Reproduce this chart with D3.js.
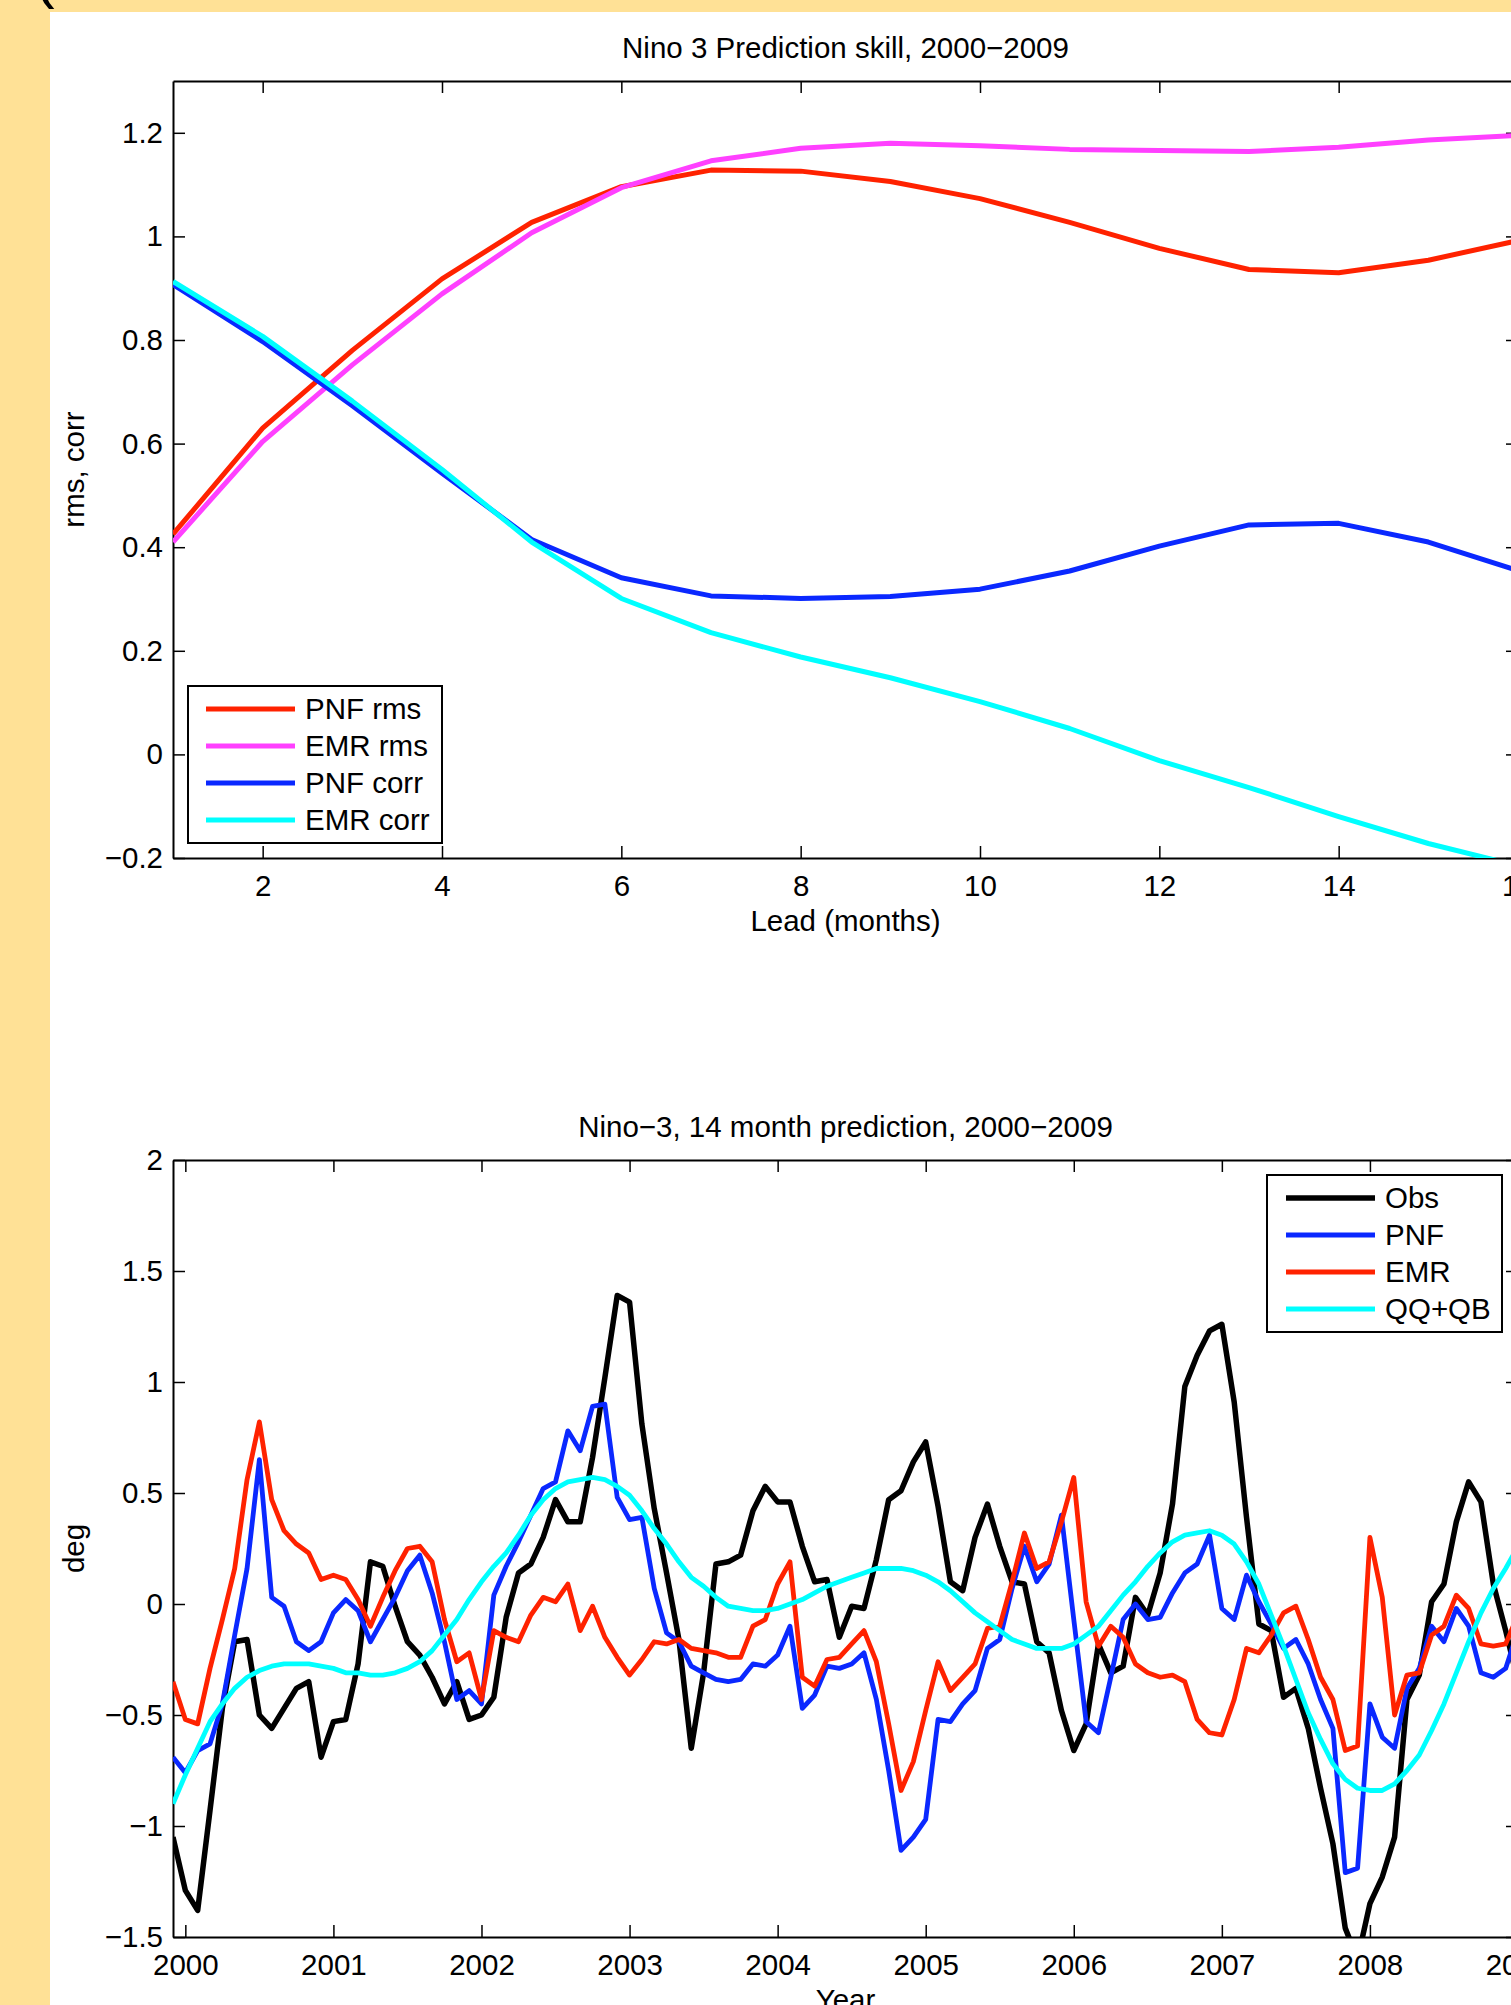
<!DOCTYPE html>
<html>
<head>
<meta charset="utf-8">
<script src="https://cdn.jsdelivr.net/npm/d3@7"></script>
<style>
body { margin: 0; background: #FFE196; }
svg { display: block; }
text { font-family: "Liberation Sans", Arial, Helvetica, sans-serif; fill: #000; }
</style>
</head>
<body>
<script>
// ---- top panel: skill vs lead ----
const leadMonths = [1, 2, 3, 4, 5, 6, 7, 8, 9, 10, 11, 12, 13, 14, 15, 16];
const pnfRms  = [0.425, 0.630, 0.780, 0.918, 1.027, 1.096, 1.128, 1.126, 1.106, 1.073, 1.027, 0.977, 0.936, 0.930, 0.954, 0.992];
const emrRms  = [0.410, 0.604, 0.752, 0.889, 1.007, 1.094, 1.146, 1.170, 1.180, 1.175, 1.168, 1.166, 1.164, 1.172, 1.186, 1.195];
const pnfCorr = [0.907, 0.797, 0.673, 0.543, 0.415, 0.341, 0.306, 0.301, 0.305, 0.319, 0.354, 0.402, 0.443, 0.446, 0.410, 0.355];
const emrCorr = [0.913, 0.807, 0.682, 0.550, 0.410, 0.301, 0.235, 0.188, 0.148, 0.102, 0.050, -0.012, -0.064, -0.120, -0.172, -0.215];
const topXTicks = [2, 4, 6, 8, 10, 12, 14, 16];
const topYTicks = [-0.2, 0, 0.2, 0.4, 0.6, 0.8, 1, 1.2];
const topYLabels = ["\u22120.2", "0", "0.2", "0.4", "0.6", "0.8", "1", "1.2"];

// ---- bottom panel: monthly series, Dec 1999 onwards ----
const firstMonth = -1; // months after Jan 2000
const obs = [-1.05, -1.29, -1.38, -0.93, -0.47, -0.17, -0.16, -0.50, -0.56, -0.47, -0.38, -0.35, -0.69,
  -0.53, -0.52, -0.27, 0.19, 0.17, -0.01, -0.17, -0.23, -0.33, -0.45, -0.35, -0.52,
  -0.50, -0.42, -0.06, 0.14, 0.18, 0.30, 0.47, 0.37, 0.37, 0.66, 1.02, 1.39,
  1.36, 0.81, 0.43, 0.14, -0.16, -0.65, -0.31, 0.18, 0.19, 0.22, 0.42, 0.53,
  0.46, 0.46, 0.26, 0.10, 0.11, -0.15, -0.01, -0.02, 0.20, 0.47, 0.51, 0.64,
  0.73, 0.44, 0.10, 0.06, 0.30, 0.45, 0.26, 0.10, 0.09, -0.17, -0.22, -0.48,
  -0.66, -0.54, -0.18, -0.31, -0.28, 0.03, -0.05, 0.14, 0.45, 0.98, 1.12, 1.23,
  1.26, 0.91, 0.39, -0.09, -0.12, -0.42, -0.38, -0.56, -0.83, -1.08, -1.46, -1.60,
  -1.35, -1.23, -1.05, -0.43, -0.32, 0.01, 0.09, 0.37, 0.55, 0.46, 0.09, -0.12,
  -0.35];
const pnf = [-0.69, -0.76, -0.66, -0.63, -0.45, -0.14, 0.16, 0.65, 0.03, -0.01, -0.17, -0.21, -0.17,
  -0.04, 0.02, -0.03, -0.17, -0.07, 0.03, 0.15, 0.22, 0.05, -0.17, -0.43, -0.39,
  -0.45, 0.04, 0.17, 0.28, 0.40, 0.52, 0.55, 0.78, 0.69, 0.89, 0.90, 0.48,
  0.38, 0.39, 0.07, -0.13, -0.17, -0.28, -0.31, -0.34, -0.35, -0.34, -0.27, -0.28,
  -0.23, -0.10, -0.47, -0.41, -0.28, -0.29, -0.27, -0.22, -0.43, -0.75, -1.11, -1.05,
  -0.97, -0.52, -0.53, -0.45, -0.39, -0.20, -0.16, 0.07, 0.26, 0.10, 0.18, 0.40,
  -0.07, -0.53, -0.58, -0.33, -0.07, 0.00, -0.07, -0.06, 0.05, 0.14, 0.18, 0.31,
  -0.02, -0.07, 0.13, 0.01, -0.09, -0.20, -0.16, -0.27, -0.43, -0.56, -1.21, -1.19,
  -0.45, -0.60, -0.65, -0.38, -0.29, -0.10, -0.17, -0.02, -0.10, -0.31, -0.33, -0.29,
  -0.12];
const emr = [-0.35, -0.52, -0.54, -0.29, -0.07, 0.16, 0.56, 0.82, 0.47, 0.33, 0.27, 0.23, 0.11,
  0.13, 0.11, 0.02, -0.10, 0.03, 0.15, 0.25, 0.26, 0.19, -0.07, -0.26, -0.22,
  -0.43, -0.12, -0.15, -0.17, -0.05, 0.03, 0.01, 0.09, -0.12, -0.01, -0.15, -0.24,
  -0.32, -0.25, -0.17, -0.18, -0.16, -0.20, -0.21, -0.22, -0.24, -0.24, -0.10, -0.07,
  0.09, 0.19, -0.33, -0.37, -0.25, -0.24, -0.18, -0.12, -0.26, -0.54, -0.84, -0.71,
  -0.48, -0.26, -0.39, -0.33, -0.27, -0.11, -0.10, 0.10, 0.32, 0.16, 0.19, 0.37,
  0.57, 0.01, -0.19, -0.10, -0.15, -0.27, -0.31, -0.33, -0.32, -0.35, -0.52, -0.58,
  -0.59, -0.43, -0.20, -0.22, -0.14, -0.04, -0.01, -0.16, -0.33, -0.43, -0.66, -0.64,
  0.30, 0.03, -0.50, -0.32, -0.31, -0.14, -0.10, 0.04, -0.02, -0.18, -0.19, -0.18,
  -0.05];
const qqqb = [-0.90, -0.77, -0.65, -0.53, -0.45, -0.38, -0.33, -0.30, -0.28, -0.27, -0.27, -0.27, -0.28,
  -0.29, -0.31, -0.31, -0.32, -0.32, -0.31, -0.29, -0.26, -0.21, -0.14, -0.07, 0.02,
  0.10, 0.17, 0.23, 0.31, 0.40, 0.47, 0.52, 0.55, 0.56, 0.57, 0.56, 0.53,
  0.49, 0.42, 0.34, 0.27, 0.19, 0.12, 0.08, 0.03, -0.01, -0.02, -0.03, -0.03,
  -0.02, 0.00, 0.02, 0.05, 0.08, 0.10, 0.12, 0.14, 0.16, 0.16, 0.16, 0.15,
  0.13, 0.10, 0.06, 0.01, -0.04, -0.08, -0.12, -0.16, -0.18, -0.20, -0.20, -0.20,
  -0.18, -0.14, -0.10, -0.03, 0.04, 0.10, 0.17, 0.23, 0.28, 0.31, 0.32, 0.33,
  0.31, 0.27, 0.19, 0.09, -0.05, -0.19, -0.34, -0.49, -0.61, -0.72, -0.79, -0.83,
  -0.84, -0.84, -0.81, -0.75, -0.68, -0.57, -0.45, -0.31, -0.17, -0.04, 0.07, 0.16,
  0.26];
const yearTicks = [2000, 2001, 2002, 2003, 2004, 2005, 2006, 2007, 2008, 2009];
const botYTicks = [-1.5, -1, -0.5, 0, 0.5, 1, 1.5, 2];
const botYLabels = ["\u22121.5", "\u22121", "\u22120.5", "0", "0.5", "1", "1.5", "2"];
const years = obs.map((d, i) => 2000 + (firstMonth + i) / 12);

const W = 1511, H = 2005, FS = 29.5;
const svg = d3.select("body").append("svg").attr("width", W).attr("height", H);
svg.append("rect").attr("width", W).attr("height", H).attr("fill", "#FFE196");
svg.append("rect").attr("x", 50).attr("y", 12).attr("width", W - 50).attr("height", H - 12).attr("fill", "#fff");
// bit of a label cut off at the top edge
svg.append("text").attr("x", 34).attr("y", -4).attr("font-size", 62).text("(");

function panel(o) {
  const x = d3.scaleLinear().domain(o.xDomain).range([o.left, o.right]);
  const y = d3.scaleLinear().domain(o.yDomain).range([o.bottom, o.top]);
  const g = svg.append("g");
  const id = "clip" + o.top;
  g.append("clipPath").attr("id", id).append("rect")
    .attr("x", o.left).attr("y", o.top).attr("width", o.right - o.left).attr("height", o.bottom - o.top);

  const styleAxis = sel => {
    sel.select(".domain").attr("stroke-width", 2);
    sel.selectAll(".tick line").attr("stroke-width", 1.5);
    sel.selectAll(".tick text").attr("font-size", FS).attr("font-family", "Liberation Sans, Arial, sans-serif");
  };
  g.append("g").attr("transform", `translate(0,${o.bottom})`)
    .call(d3.axisBottom(x).tickValues(o.xTicks).tickFormat(d3.format("d")).tickSizeInner(-12).tickSizeOuter(0).tickPadding(17))
    .call(styleAxis);
  g.append("g").attr("transform", `translate(0,${o.top})`)
    .call(d3.axisTop(x).tickValues(o.xTicks).tickFormat("").tickSizeInner(-12).tickSizeOuter(0))
    .call(styleAxis);
  g.append("g").attr("transform", `translate(${o.left},0)`)
    .call(d3.axisLeft(y).tickValues(o.yTicks).tickFormat((d, i) => o.yLabels[i]).tickSizeInner(-12).tickSizeOuter(0).tickPadding(10))
    .call(styleAxis);
  g.append("g").attr("transform", `translate(${o.right},0)`)
    .call(d3.axisRight(y).tickValues(o.yTicks).tickFormat("").tickSizeInner(-12).tickSizeOuter(0))
    .call(styleAxis);

  const line = d3.line().x(d => x(d[0])).y(d => y(d[1]));
  const lines = g.append("g").attr("clip-path", `url(#${id})`);
  o.series.forEach(s => {
    lines.append("path").datum(o.xs.map((v, i) => [v, s.values[i]]))
      .attr("d", line).attr("fill", "none").attr("stroke", s.color)
      .attr("stroke-width", s.width).attr("stroke-linejoin", "round");
  });

  const cx = (o.left + o.right) / 2;
  g.append("text").attr("x", cx).attr("y", o.top - 23).attr("text-anchor", "middle").attr("font-size", FS).text(o.title);
  g.append("text").attr("x", cx).attr("y", o.bottom + 73).attr("text-anchor", "middle").attr("font-size", FS).text(o.xLabel);
  g.append("text").attr("transform", `translate(84,${(o.top + o.bottom) / 2}) rotate(-90)`)
    .attr("text-anchor", "middle").attr("font-size", FS).text(o.yLabel);

  const L = o.legend;
  const lg = g.append("g");
  lg.append("rect").attr("x", L.x0).attr("y", L.y0).attr("width", L.x1 - L.x0).attr("height", L.y1 - L.y0)
    .attr("fill", "#fff").attr("stroke", "#000").attr("stroke-width", 2);
  o.series.forEach((s, i) => {
    const ly = L.firstY + i * L.step;
    lg.append("line").attr("x1", L.lineX0).attr("x2", L.lineX1).attr("y1", ly).attr("y2", ly)
      .attr("stroke", s.color).attr("stroke-width", s.width);
    lg.append("text").attr("x", L.lineX1 + 10).attr("y", ly + 10).attr("font-size", FS).text(s.name);
  });
}

panel({
  left: 173, right: 1518, top: 81, bottom: 858,
  xDomain: [1, 16], yDomain: [-0.2, 1.3],
  xTicks: topXTicks, yTicks: topYTicks, yLabels: topYLabels,
  xs: leadMonths,
  title: "Nino 3 Prediction skill, 2000\u22122009", xLabel: "Lead (months)", yLabel: "rms, corr",
  series: [
    { name: "PNF rms", values: pnfRms, color: "#FF2200", width: 5 },
    { name: "EMR rms", values: emrRms, color: "#FF40FF", width: 5 },
    { name: "PNF corr", values: pnfCorr, color: "#0A28FF", width: 5 },
    { name: "EMR corr", values: emrCorr, color: "#00FFFF", width: 5 }
  ],
  legend: { x0: 188, y0: 686, x1: 442, y1: 843, lineX0: 206, lineX1: 295, firstY: 709, step: 37 }
});

panel({
  left: 173, right: 1518, top: 1160, bottom: 1937,
  xDomain: [2000 + firstMonth / 12, 2009], yDomain: [-1.5, 2],
  xTicks: yearTicks, yTicks: botYTicks, yLabels: botYLabels,
  xs: years,
  title: "Nino\u22123, 14 month prediction, 2000\u22122009", xLabel: "Year", yLabel: "deg",
  series: [
    { name: "Obs", values: obs, color: "#000000", width: 5.5 },
    { name: "PNF", values: pnf, color: "#0A28FF", width: 4.8 },
    { name: "EMR", values: emr, color: "#FF2200", width: 4.8 },
    { name: "QQ+QB", values: qqqb, color: "#00FFFF", width: 4.8 }
  ],
  legend: { x0: 1267, y0: 1175, x1: 1502, y1: 1332, lineX0: 1286, lineX1: 1375, firstY: 1198, step: 37 }
});
</script>
</body>
</html>
